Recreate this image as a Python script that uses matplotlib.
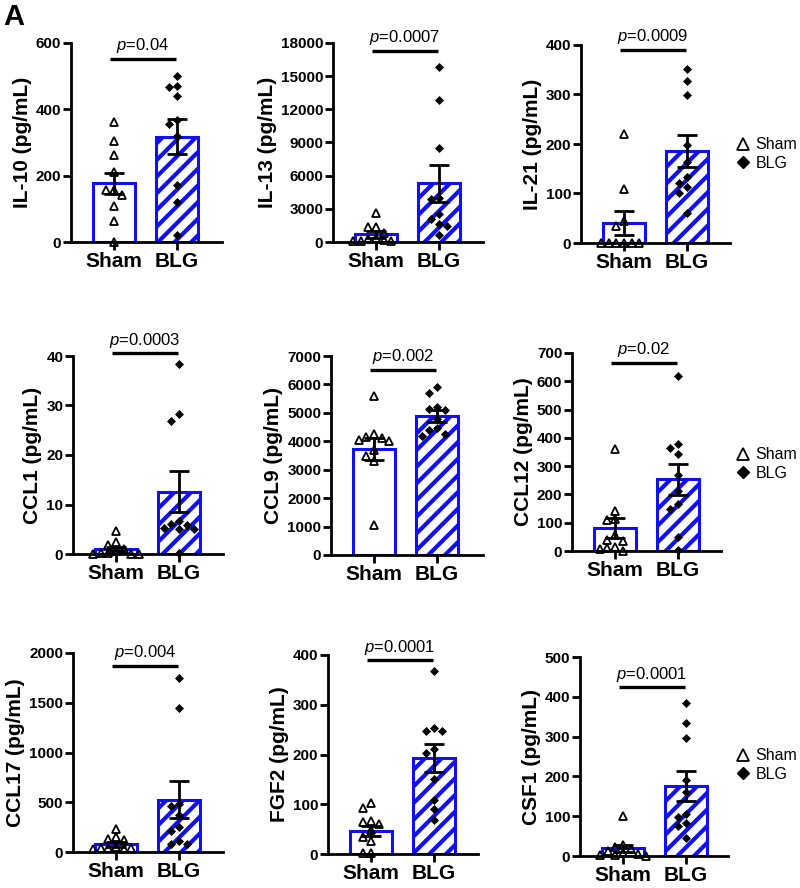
import matplotlib.pyplot as plt
import numpy as np
from matplotlib.lines import Line2D

plt.rcParams['font.family'] = ['Liberation Sans', 'DejaVu Sans']
plt.rcParams['mathtext.fontset'] = 'custom'
plt.rcParams['mathtext.it'] = 'Liberation Sans:italic'
plt.rcParams['mathtext.rm'] = 'Liberation Sans'
plt.rcParams['hatch.linewidth'] = 3.0

# values
analytes = ['IL-10', 'IL-13', 'IL-21', 'CCL1', 'CCL9', 'CCL12', 'CCL17', 'FGF2', 'CSF1']
p_values = ['0.04', '0.0007', '0.0009', '0.0003', '0.002', '0.02', '0.004', '0.0001', '0.0001']
y_max = [600, 18000, 400, 40, 7000, 700, 2000, 400, 500]
y_step = [200, 3000, 100, 10, 1000, 100, 500, 100, 100]
groups = ['Sham', 'BLG']

sham_mean = [177, 680, 40, 1.0, 3720, 81, 76, 47, 19]
sham_sem = [31, 280, 24, 0.45, 380, 34, 24, 10, 9]
blg_mean = [317, 5320, 186, 12.6, 4890, 253, 527, 193, 176]
blg_sem = [53, 1660, 32, 4.2, 215, 56, 190, 29, 38]

il10_sham = [361, 306, 263, 210, 158, 158, 143, 110, 62, 0]
il10_blg = [501, 469, 466, 439, 367, 356, 319, 173, 120, 20]
il13_sham = [2600, 1400, 1350, 850, 400, 250, 150, 100, 80, 50]
il13_blg = [15820, 12860, 8470, 3990, 3870, 2570, 2120, 1600, 1480, 605]
il21_sham = [220, 109, 44, 34, 0, 0, 0, 0, 0, 0]
il21_blg = [351, 327, 299, 197, 163, 134, 122, 114, 101, 61]
ccl1_sham = [4.6, 2.4, 1.8, 1.0, 0.6, 0.3, 0.2, 0.1, 0.1, 0.0]
ccl1_blg = [38.4, 28.3, 26.8, 6.7, 6.0, 5.8, 5.2, 5.1, 5.0, 0.3]
ccl9_sham = [5600, 4250, 4150, 4100, 4050, 4000, 3700, 3500, 3300, 1050]
ccl9_blg = [5900, 5700, 5200, 5150, 5100, 4800, 4450, 4400, 4250, 4200]
ccl12_sham = [362, 141, 112, 108, 55, 40, 35, 14, 10, 8, 0]
ccl12_blg = [617, 379, 365, 342, 270, 212, 167, 147, 49, 5]
ccl17_sham = [231, 153, 129, 119, 51, 44, 44, 44, 34, 27]
ccl17_blg = [1750, 1450, 486, 466, 374, 255, 214, 109, 78, 78]
fgf2_sham = [102, 92, 67, 65, 60, 48, 35, 26, 2, 2]
fgf2_blg = [367, 254, 248, 248, 211, 203, 150, 109, 90, 68]
csf1_sham = [100, 28, 22, 18, 12, 8, 5, 3, 2, 1]
csf1_blg = [384, 334, 296, 190, 162, 106, 97, 84, 76, 44]

sham_points = [il10_sham, il13_sham, il21_sham, ccl1_sham, ccl9_sham,
               ccl12_sham, ccl17_sham, fgf2_sham, csf1_sham]
blg_points = [il10_blg, il13_blg, il21_blg, ccl1_blg, ccl9_blg,
              ccl12_blg, ccl17_blg, fgf2_blg, csf1_blg]

# layout in pixels: (y-axis x, zero y, top y, x-axis end)
axes_px = [(71, 242, 43, 222), (333, 242, 43, 483), (581, 243, 45, 730),
           (73, 554, 356, 223), (331, 555, 356, 483), (572, 551, 353, 721),
           (73, 852, 653, 223), (328, 854, 655, 478), (580, 856, 657, 728)]
sig_frac = [0.92, 0.96, 0.975, 1.013, 0.93, 0.95, 0.936, 0.975, 0.847]
legend_y = [154, 464, 765]

W, H = 800, 888
BLUE = '#1010F0'
UNIT = 63.0      # px per category
OFFSET = 43.0    # px from y-axis to first bar centre


def swarm(values, px_per_val, step=7.7, min_dist=7.7):
    placed = []
    offs = []
    order = [0]
    for i in range(1, 10):
        order += [-i, i]
    for v in values:
        y = v * px_per_val
        for c in order:
            x = c * step
            if all((x - px) ** 2 + (y - py) ** 2 >= min_dist ** 2 - 0.01 for px, py in placed):
                break
        placed.append((x, y))
        offs.append(x)
    return np.array(offs) / UNIT


fig = plt.figure(figsize=(W / 100, H / 100), dpi=100)

for i in range(9):
    left, zero, top, right = axes_px[i]
    ax = fig.add_axes([left / W, 1 - zero / H, (right - left) / W, (zero - top) / H])
    ax.set_xlim(-OFFSET / UNIT, (right - left - OFFSET) / UNIT)
    ax.set_ylim(0, y_max[i])
    px_per_val = (zero - top) / y_max[i]

    ax.bar([0], [sham_mean[i]], width=0.667, facecolor='white', edgecolor=BLUE,
           linewidth=2.2, zorder=1)
    ax.bar([1], [blg_mean[i]], width=0.667, facecolor='white', edgecolor=BLUE,
           linewidth=2.2, hatch='//', zorder=1)

    s = np.array(sham_points[i])
    b = np.array(blg_points[i])
    ax.plot(swarm(s, px_per_val), s, linestyle='none', marker='^', ms=5.5,
            mfc='none', mec='black', mew=1.3, clip_on=False, zorder=3)
    ax.plot(1 + swarm(b, px_per_val), b, linestyle='none', marker='D', ms=3.7,
            mfc='black', mec='black', mew=0.5, clip_on=False, zorder=3)

    ax.errorbar([0, 1], [sham_mean[i], blg_mean[i]], yerr=[sham_sem[i], blg_sem[i]],
                fmt='none', ecolor='black', elinewidth=2, capsize=7.5, capthick=2,
                zorder=4, clip_on=False)

    # significance bar
    ys = sig_frac[i] * y_max[i]
    ax.plot([-0.06, 0.98], [ys, ys], color='black', lw=2.4, clip_on=False,
            solid_capstyle='butt')
    ax.annotate('$p$=' + p_values[i], (0.46, ys), xytext=(0, 2.5),
                textcoords='offset points', ha='center', va='bottom', fontsize=12,
                annotation_clip=False)

    for side in ['top', 'right']:
        ax.spines[side].set_visible(False)
    for side in ['left', 'bottom']:
        ax.spines[side].set_linewidth(2)

    ax.set_yticks(np.arange(0, y_max[i] + y_step[i] / 2, y_step[i]))
    ax.set_xticks([0, 1])
    ax.set_xticklabels(groups, fontsize=15, fontweight='bold')
    ax.tick_params(axis='both', direction='out', length=5.5, width=2)
    ax.tick_params(axis='y', labelsize=11, pad=1.5)
    ax.tick_params(axis='x', pad=2)
    for lab in ax.get_yticklabels():
        lab.set_fontweight('bold')
    ax.set_ylabel(analytes[i] + ' (pg/mL)', fontsize=15, fontweight='bold', labelpad=3)

handles = [Line2D([], [], linestyle='none', marker='^', ms=9, mfc='none', mec='black', mew=1.3),
           Line2D([], [], linestyle='none', marker='D', ms=6, mfc='black', mec='black')]
for ly in legend_y:
    fig.legend(handles, groups, loc='center left', bbox_to_anchor=(735 / W, 1 - ly / H),
               frameon=False, fontsize=11.5, handlelength=1.0, handletextpad=0.3,
               labelspacing=0.2, borderpad=0, borderaxespad=0)

fig.text(3 / W, 1 - 3 / H, 'A', fontsize=21, fontweight='bold', ha='left', va='top')

fig.savefig('out.png', dpi=100)
